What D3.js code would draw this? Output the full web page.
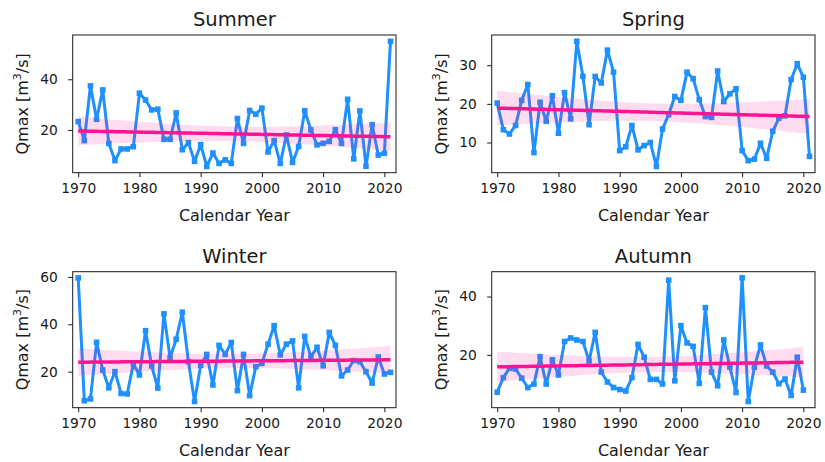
<!DOCTYPE html>
<html>
<head>
<meta charset="utf-8">
<script src="https://cdn.jsdelivr.net/npm/d3@7"></script>
<style>
  body { margin: 0; background: #fff; }
  text { font-family: "DejaVu Sans", sans-serif; fill: #1a1a1a; }
</style>
</head>
<body>
<svg id="chart" width="825" height="462"></svg>
<script>
// Seasonal annual maximum discharge (Qmax, m³/s) by calendar year
const years = [1970,1971,1972,1973,1974,1975,1976,1977,1978,1979,
               1980,1981,1982,1983,1984,1985,1986,1987,1988,1989,
               1990,1991,1992,1993,1994,1995,1996,1997,1998,1999,
               2000,2001,2002,2003,2004,2005,2006,2007,2008,2009,
               2010,2011,2012,2013,2014,2015,2016,2017,2018,2019,
               2020,2021];
const yearsAutumn = years.slice(0, 51);

const summer = [23.3,15.8,37.4,24.2,35.8,14.7,7.9,12.5,12.5,13.4,
                34.5,31.8,27.9,28.2,16.3,16.3,26.7,12.2,15.0,7.6,
                14.2,5.6,10.9,6.8,8.2,6.8,24.5,14.7,27.7,26.2,
                28.6,11.3,15.8,6.8,18.0,7.2,13.5,27.6,20.0,14.1,
                14.7,15.5,20.1,14.7,32.1,8.6,27.5,5.7,22.1,10.1,
                10.8,55.0];
const spring = [20.2,13.3,12.2,14.4,20.9,25.0,7.4,20.4,15.5,22.1,
                12.4,22.9,16.1,36.2,27.1,14.6,27.1,25.4,33.9,28.2,
                7.9,8.9,14.4,8.1,9.2,10.0,3.8,13.5,17.2,21.9,
                20.9,28.2,26.5,21.1,16.7,16.5,28.5,20.6,22.6,23.9,
                7.9,5.3,5.7,9.8,5.9,12.9,16.3,16.9,26.3,30.4,
                26.9,6.4];
const winter = [59.6,7.7,8.5,32.4,20.7,13.2,20.0,10.8,10.6,23.3,
                18.6,37.3,22.4,13.1,44.4,25.9,33.7,45.1,24.2,7.4,
                22.7,27.3,14.4,31.1,27.3,32.3,12.0,27.3,9.9,22.1,
                23.5,31.6,39.4,27.1,31.6,33.0,13.2,34.9,26.2,30.3,
                22.5,36.6,31.1,18.2,20.7,24.7,24.2,20.0,15.2,26.2,
                19.0,19.7];
const autumn = [7.2,12.2,15.4,15.1,12.0,8.8,10.0,19.4,10.0,18.3,
                13.1,24.6,25.8,25.1,24.6,17.9,27.7,14.1,10.7,8.8,
                8.1,7.6,12.2,23.6,19.2,11.6,11.6,10.0,45.6,11.1,
                30.0,24.1,22.9,10.2,36.2,14.1,9.4,25.1,15.8,7.1,
                46.4,4.0,15.8,23.4,16.2,14.1,10.1,11.7,6.1,19.2,
                7.9];

const xTicks = [1970, 1980, 1990, 2000, 2010, 2020];
const summerTicks = [20, 40];
const springTicks = [10, 20, 30];
const winterTicks = [20, 40, 60];
const autumnTicks = [20, 40];

const panels = [
  { title: "Summer", x: years,       y: summer, ticks: summerTicks, col: 0, row: 0 },
  { title: "Spring", x: years,       y: spring, ticks: springTicks, col: 1, row: 0 },
  { title: "Winter", x: years,       y: winter, ticks: winterTicks, col: 0, row: 1 },
  { title: "Autumn", x: yearsAutumn, y: autumn, ticks: autumnTicks, col: 1, row: 1 }
];

// subplot frames
const cols = [[72.7, 396], [491.7, 815]];
const rows = [[35, 172.7], [271.7, 407.7]];
const xDomain = [1969.1, 2021.9];

const BLUE = "#1E90FF", PINK = "#FF1493";

// ordinary least squares fit with a 95% confidence band
function regression(xs, ys) {
  const n = xs.length;
  const mx = d3.mean(xs), my = d3.mean(ys);
  let sxx = 0, sxy = 0;
  xs.forEach((x, i) => { sxx += (x - mx) ** 2; sxy += (x - mx) * (ys[i] - my); });
  const b = sxy / sxx, a = my - b * mx;
  let sse = 0;
  xs.forEach((x, i) => { sse += (ys[i] - (a + b * x)) ** 2; });
  const s = Math.sqrt(sse / (n - 2));
  const t = 2.009;
  const lo = d3.min(xs), hi = d3.max(xs);
  const grid = d3.range(0, 101).map(k => lo + (hi - lo) * k / 100);
  return grid.map(x => {
    const yhat = a + b * x;
    const h = t * s * Math.sqrt(1 / n + (x - mx) ** 2 / sxx);
    return { x, y: yhat, y0: yhat - h, y1: yhat + h };
  });
}

const svg = d3.select("#chart");

panels.forEach(p => {
  const [x0, x1] = cols[p.col];
  const [y0, y1] = rows[p.row];
  const ext = d3.extent(p.y);
  const pad = (ext[1] - ext[0]) * 0.05;

  const x = d3.scaleLinear().domain(xDomain).range([x0, x1]);
  const y = d3.scaleLinear().domain([ext[0] - pad, ext[1] + pad]).range([y1, y0]);

  const g = svg.append("g");
  const pts = p.x.map((yr, i) => ({ x: yr, y: p.y[i] }));

  // observed series
  g.append("path")
    .datum(pts)
    .attr("fill", "none")
    .attr("stroke", BLUE)
    .attr("stroke-width", 3)
    .attr("stroke-linejoin", "round")
    .attr("d", d3.line().x(d => x(d.x)).y(d => y(d.y)));

  const ms = 5.6;
  g.selectAll("rect.pt")
    .data(pts)
    .join("rect")
    .attr("class", "pt")
    .attr("x", d => x(d.x) - ms / 2)
    .attr("y", d => y(d.y) - ms / 2)
    .attr("width", ms)
    .attr("height", ms)
    .attr("fill", BLUE);

  // linear trend and its confidence band
  const fit = regression(p.x, p.y);
  g.append("path")
    .datum(fit)
    .attr("fill", PINK)
    .attr("fill-opacity", 0.15)
    .attr("d", d3.area().x(d => x(d.x)).y0(d => y(d.y0)).y1(d => y(d.y1)));
  g.append("path")
    .datum(fit)
    .attr("fill", "none")
    .attr("stroke", PINK)
    .attr("stroke-width", 3.5)
    .attr("d", d3.line().x(d => x(d.x)).y(d => y(d.y)));

  // axes
  const xAxis = g.append("g")
    .attr("transform", `translate(0,${y1})`)
    .call(d3.axisBottom(x).tickValues(xTicks).tickFormat(d3.format("d")).tickSize(4.5).tickPadding(6.5));
  const yAxis = g.append("g")
    .attr("transform", `translate(${x0},0)`)
    .call(d3.axisLeft(y).tickValues(p.ticks).tickFormat(d3.format("d")).tickSize(4.5).tickPadding(10.5));
  [xAxis, yAxis].forEach(a => {
    a.select(".domain").remove();
    a.selectAll("line").attr("stroke", "#1a1a1a").attr("stroke-width", 1);
    a.selectAll("text").attr("font-size", 13.8).attr("fill", "#1a1a1a")
      .style("font-family", "'DejaVu Sans', sans-serif");
  });

  // frame
  g.append("rect")
    .attr("x", x0).attr("y", y0)
    .attr("width", x1 - x0).attr("height", y1 - y0)
    .attr("fill", "none")
    .attr("stroke", "#1a1a1a")
    .attr("stroke-width", 1);

  // title and axis labels
  g.append("text")
    .attr("x", (x0 + x1) / 2).attr("y", y0 - 9)
    .attr("text-anchor", "middle")
    .attr("font-size", 19.5)
    .text(p.title);

  g.append("text")
    .attr("x", (x0 + x1) / 2).attr("y", y1 + 48.5)
    .attr("text-anchor", "middle")
    .attr("font-size", 16)
    .text("Calendar Year");

  const yl = g.append("text")
    .attr("transform", `translate(${x0 - 45},${(y0 + y1) / 2}) rotate(-90)`)
    .attr("text-anchor", "middle")
    .attr("font-size", 16);
  yl.append("tspan").text("Qmax [m");
  yl.append("tspan").attr("font-size", 11).attr("dy", -6.5).text("3");
  yl.append("tspan").attr("dy", 6.5).text("/s]");
});
</script>
</body>
</html>
